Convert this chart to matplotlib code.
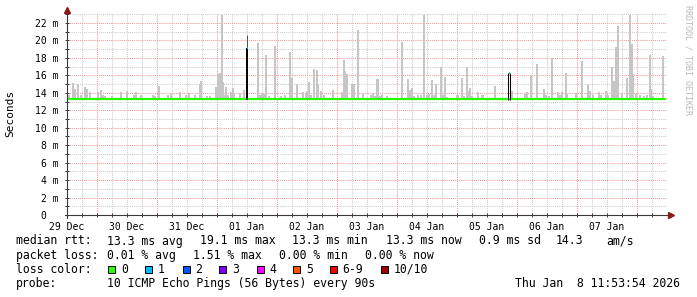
import matplotlib
matplotlib.use("Agg")
import matplotlib.pyplot as plt
from matplotlib.patches import Rectangle

# x values are hours since 29 Dec 00:00, y values are milliseconds
day_labels = ["29 Dec", "30 Dec", "31 Dec", "01 Jan", "02 Jan",
              "03 Jan", "04 Jan", "05 Jan", "06 Jan", "07 Jan"]
y_values = [0, 2, 4, 6, 8, 10, 12, 14, 16, 18, 20, 22]
y_labels = ["0", "2 m", "4 m", "6 m", "8 m", "10 m", "12 m", "14 m",
            "16 m", "18 m", "20 m", "22 m"]

median_rtt = 13.3
data_start = 12.0
data_end = 251.6

# smoke (spread of the pings) per time slot
smoke_hours = [12.8, 14.4, 15.2, 16.2, 17.4, 19.2, 20.0, 21.0, 24.4, 25.4,
               26.2, 27.0, 29.8, 33.6, 35.8, 38.8, 39.6, 41.4, 46.4, 47.2,
               48.8, 52.4, 53.4, 57.2, 59.6, 60.6, 63.2, 65.2, 65.6, 68.0,
               69.2, 71.6, 72.4, 73.2, 74.0, 74.6, 75.2, 75.8, 76.4, 77.6,
               78.2, 78.8, 81.2, 82.8, 88.2, 89.2, 90.0, 90.8, 91.6, 92.8,
               95.0, 97.6, 99.2, 101.0, 102.0, 103.8, 106.4, 107.6, 108.0, 108.8,
               109.6, 110.6, 111.8, 112.4, 113.6, 114.8, 118.4, 122.0, 122.6, 123.2,
               123.8, 125.8, 126.8, 128.4, 130.4, 133.6, 134.4, 135.2, 136.2, 137.2,
               137.8, 140.0, 146.0, 148.4, 149.2, 150.0, 150.8, 152.4, 153.6, 154.8,
               155.8, 156.6, 157.8, 158.8, 159.6, 161.4, 162.4, 163.2, 163.8, 168.2,
               170.0, 170.8, 171.8, 172.2, 173.2, 174.0, 176.4, 178.2, 183.0, 189.8,
               195.2, 195.8, 197.6, 200.0, 202.8, 203.6, 204.6, 206.0, 208.4, 209.2,
               210.0, 211.4, 212.0, 215.4, 218.0, 220.2, 221.0, 222.4, 224.8, 225.6,
               227.6, 228.4, 230.0, 230.8, 231.6, 232.4, 233.8, 236.0, 237.2, 237.8,
               238.4, 239.6, 241.0, 242.8, 244.0, 245.0, 245.6, 246.4, 250.4]
smoke_top = [13.7, 15.1, 14.4, 15.0, 13.8, 14.7, 14.4, 14.06, 14.06, 14.3,
             13.8, 13.6, 13.6, 14.06, 14.2, 13.7, 14.06, 13.7, 13.8, 13.6,
             14.8, 13.7, 13.9, 14.06, 13.7, 13.95, 13.7, 15.0, 15.35, 13.6,
             13.6, 14.7, 16.2, 16.3, 22.9, 15.2, 13.8, 14.7, 13.7, 14.06,
             14.5, 13.95, 13.95, 14.3, 19.75, 13.8, 13.95, 13.9, 18.3, 13.6,
             19.4, 13.6, 13.7, 18.7, 15.7, 15.0, 14.06, 13.9, 14.2, 15.2,
             13.8, 16.7, 16.6, 15.0, 14.2, 13.7, 14.3, 14.06, 17.8, 16.5,
             16.1, 15.05, 15.0, 21.2, 13.9, 13.8, 13.95, 13.6, 15.55, 13.6,
             13.7, 13.6, 19.8, 15.6, 14.3, 14.5, 13.6, 13.8, 13.8, 22.9,
             13.8, 13.9, 15.5, 13.7, 15.0, 16.9, 13.7, 15.85, 13.5, 13.7,
             15.75, 13.6, 16.9, 14.2, 14.5, 13.6, 14.06, 13.7, 14.75, 14.2,
             13.95, 14.06, 16.0, 17.3, 14.4, 13.8, 13.6, 18.0, 14.06, 13.7,
             14.06, 16.3, 13.9, 13.95, 17.65, 14.9, 14.2, 13.7, 14.06, 13.8,
             14.2, 13.7, 17.0, 15.3, 19.2, 21.6, 13.95, 15.75, 22.9, 19.55,
             16.1, 13.9, 13.8, 13.6, 13.8, 18.3, 14.4, 13.6, 18.25]

# short median jumps (with 1 lost ping)
spike_hours = [84.0, 188.9]
spike_median = [19.1, 16.3]
spike_smoke = [20.6, 13.3]

loss_labels = ["0", "1", "2", "3", "4", "5", "6-9", "10/10"]
loss_colors = ["#26ff00", "#00b8ff", "#0059ff", "#7e00ff",
               "#ff00ff", "#ff5500", "#ff0000", "#a10000"]

W, H = 697, 297
mono = "DejaVu Sans Mono"
grid_minor = "#cccccc"
grid_major = "#f09a9a"
dots = (0, (1, 1))

fig = plt.figure(figsize=(W / 100, H / 100), dpi=100)
fig.patch.set_facecolor("white")
ax = fig.add_axes([67 / W, (H - 215) / H, 600 / W, 202.5 / H])
ax.set_xlim(12, 252)
ax.set_ylim(0, 23.2)
for s in ax.spines.values():
    s.set_visible(False)

# grid
for h in range(18, 252, 6):
    col = grid_major if h % 24 == 0 else grid_minor
    ax.axvline(h, color=col, lw=0.75, ls=dots, zorder=1)
for v in range(1, 24):
    col = grid_major if v % 2 == 0 else grid_minor
    ax.axhline(v, color=col, lw=0.75, ls=dots, zorder=1)

# smoke
heights = [t - median_rtt for t in smoke_top]
ax.bar(smoke_hours, heights, bottom=median_rtt, width=0.8, color="#c6c6c6",
       linewidth=0, align="center", zorder=2)

# median line
ax.plot([data_start, data_end], [median_rtt, median_rtt], color=loss_colors[0],
        lw=1.6, solid_capstyle="butt", zorder=4)

for h, m, sm in zip(spike_hours, spike_median, spike_smoke):
    if sm > median_rtt:
        ax.vlines(h, median_rtt, sm, color="#505050", lw=0.72, zorder=3)
        ax.bar(h, m - median_rtt, bottom=median_rtt, width=0.6, color="#222222",
               linewidth=0, zorder=3)
        ax.vlines(h, median_rtt - 0.15, m, color="black", lw=1.2, zorder=5)
    else:
        ax.vlines([h - 0.4, h + 0.4], median_rtt - 0.15, m, color="black",
                  lw=0.75, zorder=5)
    ax.plot([h, h + 0.4], [m, m], color=loss_colors[1], lw=1.4, zorder=6,
            solid_capstyle="butt")

# axes lines and arrows
ax.plot([11.2, 253.5], [0, 0], color="#3a3a3a", lw=0.8, clip_on=False, zorder=6)
ax.plot([12, 12], [-0.3, 23.3], color="#3a3a3a", lw=0.8, clip_on=False, zorder=6)
ax.plot(253.6, 0, marker=">", ms=4, color="#8b1a1a", clip_on=False, zorder=7)
ax.plot(12, 23.45, marker="^", ms=4, color="#8b1a1a", clip_on=False, zorder=7)

# ticks
ax.set_xticks([12 + 24 * i for i in range(len(day_labels))])
ax.set_xticklabels(day_labels, fontfamily=mono, fontsize=7)
ax.set_xticks([h for h in range(18, 252, 6) if (h - 12) % 24 != 0], minor=True)
ax.set_yticks(y_values)
ax.set_yticklabels([lab if lab != "0" else "0  " for lab in y_labels],
                   fontfamily=mono, fontsize=7)
ax.set_yticks([v for v in range(1, 24, 2)], minor=True)
ax.tick_params(axis="x", which="both", direction="inout", length=3, width=0.7,
               color="#3a3a3a", pad=3.5)
ax.tick_params(axis="y", which="both", direction="inout", length=3, width=0.7,
               color="#3a3a3a", pad=4.5)

fig.text(10 / W, 1 - 113 / H, "Seconds", rotation=90, ha="center", va="center",
         fontfamily=mono, fontsize=8)
fig.text(688 / W, 1 - 5 / H, "RRDTOOL / TOBI OETIKER", rotation=270, ha="center",
         va="top", fontfamily=mono, fontsize=6, color="#b8b8b8")


def put(x, y, s):
    fig.text(x / W, 1 - y / H, s, ha="left", va="center", fontfamily=mono,
             fontsize=8.3, color="black")


put(16, 241, "median rtt:")
put(107, 241, "13.3 ms avg")
put(200, 241, "19.1 ms max")
put(292, 241, "13.3 ms min")
put(386, 241, "13.3 ms now")
put(479, 241, "0.9 ms sd")
put(556, 241, "14.3")
put(606, 241, "am/s")

put(16, 255.5, "packet loss:")
put(107, 255.5, "0.01 % avg")
put(193, 255.5, "1.51 % max")
put(279, 255.5, "0.00 % min")
put(365, 255.5, "0.00 % now")

put(16, 269.5, "loss color:")
box_x = [108.3, 145.3, 182.7, 219.3, 256.7, 293.3, 330, 381]
for bx, lab, col in zip(box_x, loss_labels, loss_colors):
    fig.add_artist(Rectangle((bx / W, 1 - 273 / H), 7 / W, 7 / H,
                             transform=fig.transFigure, facecolor=col,
                             edgecolor="black", lw=0.7))
    put(bx + 12.5, 269.5, lab)

put(16, 283.5, "probe:")
put(107, 283.5, "10 ICMP Echo Pings (56 Bytes) every 90s")
fig.text(680 / W, 1 - 283.5 / H, "Thu Jan  8 11:53:54 2026", ha="right", va="center",
         fontfamily=mono, fontsize=8.3, color="black")

fig.savefig("out.png", dpi=100, facecolor="white")
